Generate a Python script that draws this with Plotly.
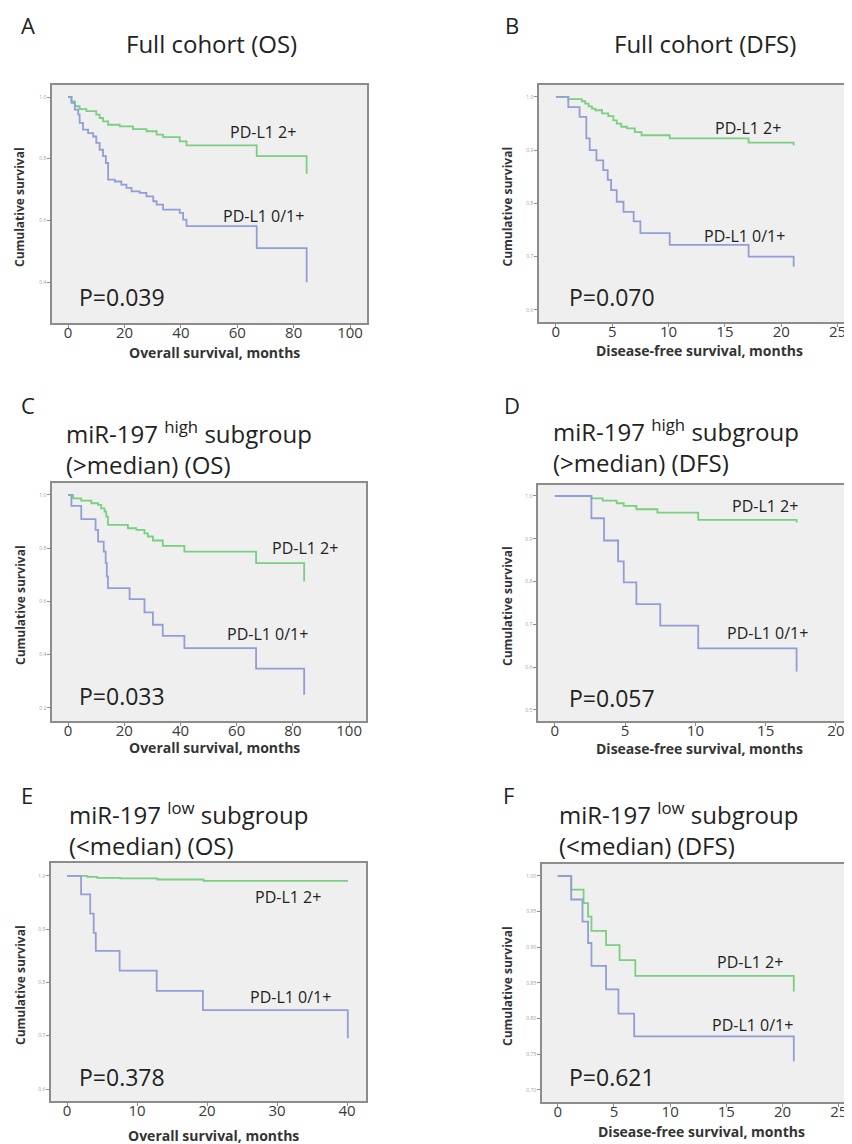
import plotly.graph_objects as go

# page is 852x1144; the html body has an 8px default margin, so the figure is 8px smaller
PAGE_W, PAGE_H = 852, 1144
OFF = 8
W, H = PAGE_W - OFF, PAGE_H - OFF

# ---------------- data ----------------
# Panel A: Full cohort OS
a_hi_t = [0, 1.2, 2.4, 4.1, 6.5, 10.0, 11.2, 12.4, 14.2, 18.3, 23.0, 27.8, 31.4, 33.7, 39.6, 42.0, 66.9, 84.6]
a_hi_s = [1.0, 0.986, 0.970, 0.961, 0.954, 0.943, 0.932, 0.921, 0.910, 0.905, 0.896, 0.889, 0.878, 0.870, 0.856, 0.843, 0.808, 0.751]
a_lo_t = [0, 1.2, 2.4, 3.6, 4.1, 5.3, 7.1, 8.9, 10.0, 11.2, 12.4, 13.4, 14.2, 16.6, 18.9, 20.7, 22.5, 25.4, 27.8, 30.2, 31.4, 33.7, 39.6, 40.8, 42.0, 66.9, 84.6]
a_lo_s = [1.0, 0.981, 0.959, 0.943, 0.916, 0.894, 0.883, 0.872, 0.851, 0.829, 0.808, 0.786, 0.732, 0.726, 0.716, 0.705, 0.694, 0.689, 0.678, 0.662, 0.651, 0.635, 0.624, 0.602, 0.581, 0.510, 0.399]

# Panel B: Full cohort DFS
b_hi_t = [0, 1.1, 2.3, 2.6, 2.9, 3.2, 3.5, 4.1, 4.65, 5.1, 5.4, 5.8, 6.3, 7.0, 7.6, 10.1, 17.1, 21.1]
b_hi_s = [1.0, 0.996, 0.992, 0.9875, 0.9825, 0.978, 0.975, 0.969, 0.964, 0.956, 0.950, 0.944, 0.941, 0.934, 0.928, 0.922, 0.914, 0.909]
b_lo_t = [0, 1.1, 2.1, 2.7, 3.0, 3.6, 4.2, 4.6, 4.9, 5.4, 6.0, 6.9, 7.5, 10.1, 17.1, 21.1]
b_lo_s = [1.0, 0.981, 0.9625, 0.922, 0.900, 0.881, 0.8625, 0.844, 0.825, 0.803, 0.784, 0.766, 0.744, 0.722, 0.700, 0.681]

# Panel C: miR-197 high OS
c_hi_t = [0, 1.8, 4.7, 8.3, 10.7, 11.8, 13.0, 13.6, 14.2, 21.3, 24.3, 27.2, 28.4, 30.2, 33.7, 41.4, 66.9, 84.0]
c_hi_s = [1.0, 0.9875, 0.979, 0.969, 0.9625, 0.950, 0.9375, 0.919, 0.8875, 0.875, 0.869, 0.856, 0.844, 0.829, 0.809, 0.7875, 0.744, 0.675]
c_lo_t = [0, 1.2, 4.7, 9.8, 10.7, 12.7, 13.4, 13.8, 14.2, 21.9, 27.2, 30.2, 33.7, 41.4, 66.9, 84.0]
c_lo_s = [1.0, 0.959, 0.909, 0.869, 0.825, 0.7875, 0.744, 0.694, 0.650, 0.609, 0.559, 0.5125, 0.471, 0.425, 0.3475, 0.250]

# Panel D: miR-197 high DFS
d_hi_t = [0, 2.6, 3.4, 4.4, 4.9, 5.8, 7.3, 10.2, 17.2]
d_hi_s = [1.0, 0.9945, 0.989, 0.983, 0.977, 0.969, 0.961, 0.944, 0.938]
d_lo_t = [0, 2.6, 3.5, 4.5, 4.9, 5.8, 7.5, 10.2, 17.2]
d_lo_s = [1.0, 0.948, 0.896, 0.847, 0.798, 0.747, 0.697, 0.644, 0.590]

# Panel E: miR-197 low OS
e_hi_t = [0, 2.9, 4.3, 7.6, 12.9, 19.5, 40.0]
e_hi_s = [1.0, 0.998, 0.996, 0.995, 0.993, 0.9906, 0.989]
e_lo_t = [0, 2.0, 3.3, 3.8, 4.1, 7.5, 12.8, 19.4, 40.1]
e_lo_s = [1.0, 0.965, 0.929, 0.893, 0.859, 0.822, 0.784, 0.748, 0.695]

# Panel F: miR-197 low DFS
f_hi_t = [0, 1.2, 2.3, 2.7, 3.0, 4.3, 5.5, 6.9, 21.0]
f_hi_s = [1.0, 0.981, 0.962, 0.943, 0.923, 0.903, 0.882, 0.860, 0.838]
f_lo_t = [0, 1.2, 2.2, 2.7, 3.0, 4.3, 5.4, 6.8, 21.0]
f_lo_s = [1.0, 0.967, 0.936, 0.906, 0.874, 0.841, 0.807, 0.775, 0.740]

letters = ["A", "B", "C", "D", "E", "F"]
titles = [
    "Full cohort (OS)",
    "Full cohort (DFS)",
    "miR-197 <sup>high</sup> subgroup<br>(&gt;median) (OS)",
    "miR-197 <sup>high</sup> subgroup<br>(&gt;median) (DFS)",
    "miR-197 <sup>low</sup> subgroup<br>(&lt;median) (OS)",
    "miR-197 <sup>low</sup> subgroup<br>(&lt;median) (DFS)",
]
p_values = ["P=0.039", "P=0.070", "P=0.033", "P=0.057", "P=0.378", "P=0.621"]
x_titles = ["Overall survival, months", "Disease-free survival, months"] * 3
y_title = "Cumulative survival"
series_labels = ["PD-L1 2+", "PD-L1 0/1+"]

x_ticks = [[0, 20, 40, 60, 80, 100], [0, 5, 10, 15, 20, 25],
           [0, 20, 40, 60, 80, 100], [0, 5, 10, 15, 20],
           [0, 10, 20, 30, 40], [0, 5, 10, 15, 20, 25]]
y_ticks = [[0.4, 0.6, 0.8, 1.0], [0.6, 0.7, 0.8, 0.9, 1.0],
           [0.2, 0.4, 0.6, 0.8, 1.0], [0.5, 0.6, 0.7, 0.8, 0.9, 1.0],
           [0.6, 0.7, 0.8, 0.9, 1.0], [0.70, 0.75, 0.80, 0.85, 0.90, 0.95, 1.00]]
y_tick_fmt = [".1f", ".1f", ".1f", ".1f", ".1f", ".2f"]

curves = [
    (a_hi_t, a_hi_s, a_lo_t, a_lo_s),
    (b_hi_t, b_hi_s, b_lo_t, b_lo_s),
    (c_hi_t, c_hi_s, c_lo_t, c_lo_s),
    (d_hi_t, d_hi_s, d_lo_t, d_lo_s),
    (e_hi_t, e_hi_s, e_lo_t, e_lo_s),
    (f_hi_t, f_hi_s, f_lo_t, f_lo_s),
]

# ---------------- layout geometry (page pixels) ----------------
boxes = [(52, 367, 85, 323), (539, 850, 85, 322),
         (52, 366, 483, 721), (538, 850, 485, 721),
         (51, 366, 863, 1101), (542, 850, 864, 1102)]
x_ranges = [(-5.7, 106), (-1.5, 26.1), (-5.7, 106), (-1.2, 21.0), (-2.3, 42.7), (-1.4, 26.0)]
y_ranges = [(0.267, 1.039), (0.577, 1.0225), (0.151, 1.045), (0.474, 1.0257), (0.5775, 1.024), (0.683, 1.0168)]

letter_pos = [(28, 25), (512, 25), (28, 405), (512, 405), (27, 795), (508, 795)]
title_pos = [(211, 43, "center"), (705, 43, "center"), (64, 448, "left"), (551, 446, "left"),
             (67, 829, "left"), (557, 829, "left")]
hi_lab = [(263, 132), (748, 128), (305, 548), (765, 506), (288, 897), (750, 962)]
lo_lab = [(263, 216), (744, 236), (267, 634), (767, 633), (290, 997), (752, 1025)]
p_pos = [(122, 297), (612, 297), (122, 696), (612, 698), (122, 1077), (612, 1077)]
ytitle_x = [20, 507, 20, 507, 20, 507]
xtitle_y = [353, 350, 747, 748, 1135, 1131]

GREEN = "rgb(120,208,128)"
BLUE = "rgb(146,158,214)"
FONT = "Open Sans"


def px(x, y):
    return (x - OFF) / W, 1 - (y - OFF) / H


fig = go.Figure()
annotations = []
for i in range(6):
    n = "" if i == 0 else str(i + 1)
    xa, ya = "x" + n, "y" + n
    hi_t, hi_s, lo_t, lo_s = curves[i]
    fig.add_trace(go.Scatter(x=hi_t, y=hi_s, mode="lines", line=dict(color=GREEN, width=1.8, shape="hv"),
                             xaxis=xa, yaxis=ya, showlegend=False, name=series_labels[0]))
    fig.add_trace(go.Scatter(x=lo_t, y=lo_s, mode="lines", line=dict(color=BLUE, width=1.8, shape="hv"),
                             xaxis=xa, yaxis=ya, showlegend=False, name=series_labels[1]))
    l, r, t, b = boxes[i]
    x0, y1 = px(l, t)
    x1, y0 = px(r, b)
    axis_common = dict(showgrid=False, zeroline=False, showline=True, linecolor="#8c8c8c", linewidth=1.5,
                       mirror=True, ticks="outside", tickcolor="#8c8c8c", ticklen=3)
    fig.layout["xaxis" + n] = dict(domain=[x0, x1], range=list(x_ranges[i]), tickvals=x_ticks[i],
                                   anchor=ya, tickfont=dict(family=FONT, size=15, color="#3a3a3a"),
                                   ticklabelstandoff=-8, **axis_common)
    fig.layout["yaxis" + n] = dict(domain=[y0, y1], range=list(y_ranges[i]), tickvals=y_ticks[i],
                                   tickformat=y_tick_fmt[i], anchor=xa,
                                   tickfont=dict(family=FONT, size=5, color="#a0a0a0"), **axis_common)
    lx, ly = px(*letter_pos[i])
    annotations.append(dict(text=letters[i], x=lx, y=ly, xref="paper", yref="paper", showarrow=False,
                            xanchor="center", yanchor="middle", font=dict(family=FONT, size=22, color="#222")))
    tx, ty, al = title_pos[i]
    tx, ty = px(tx, ty)
    annotations.append(dict(text=titles[i], x=tx, y=ty, xref="paper", yref="paper", showarrow=False,
                            xanchor=al, yanchor="middle", align="left",
                            font=dict(family=FONT, size=24, color="#222")))
    for lab, pos in zip(series_labels, [hi_lab[i], lo_lab[i]]):
        ax_, ay_ = px(*pos)
        annotations.append(dict(text=lab, x=ax_, y=ay_, xref="paper", yref="paper", showarrow=False,
                                xanchor="center", yanchor="middle", font=dict(family=FONT, size=16, color="#222")))
    qx, qy = px(*p_pos[i])
    annotations.append(dict(text=p_values[i], x=qx, y=qy, xref="paper", yref="paper", showarrow=False,
                            xanchor="center", yanchor="middle", font=dict(family=FONT, size=23, color="#222")))
    cx = (l + r) / 2
    xtx, xty = px(cx + 5, xtitle_y[i])
    annotations.append(dict(text="<b>" + x_titles[i] + "</b>", x=xtx, y=xty, xref="paper", yref="paper",
                            showarrow=False, xanchor="center", yanchor="middle",
                            font=dict(family=FONT, size=14, color="#333")))
    ytx, yty = px(ytitle_x[i], (t + b) / 2 + 3)
    annotations.append(dict(text="<b>" + y_title + "</b>", x=ytx, y=yty, xref="paper", yref="paper",
                            showarrow=False, xanchor="center", yanchor="middle", textangle=-90,
                            font=dict(family=FONT, size=12, color="#333")))

fig.update_layout(width=W, height=H, margin=dict(l=0, r=0, t=0, b=0),
                  paper_bgcolor="white", plot_bgcolor="#efefef", annotations=annotations)
fig.write_html("out.html")
